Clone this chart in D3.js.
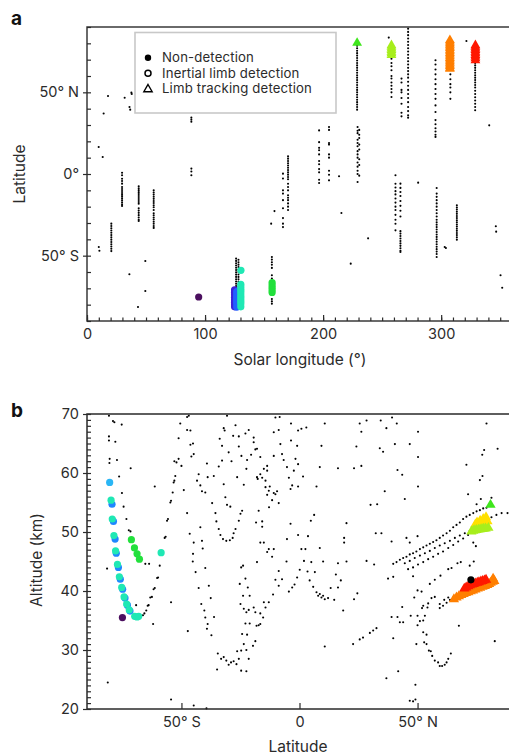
<!DOCTYPE html>
<html><head><meta charset="utf-8">
<script src="https://cdn.jsdelivr.net/npm/d3@7"></script>
<style>
html,body{margin:0;padding:0;background:#fff;}
svg{display:block;font-family:Inter,"Noto Sans",sans-serif;}
</style></head><body>
<svg id="c" width="509" height="756"></svg>
<script>
// ---------------- Panel a data (solar longitude, latitude) ----------------
const aScatter = [[9.9,16.5],[13.3,10.4],[14.1,37],[17.8,47.8],[31.9,46.7],[36,41],[36.6,39.4],[37.6,49.8],[37.9,49],
 [10,-44.7],[10.5,-47],[35.9,-61.4],[49.4,-53.3],[49.4,-71.6],[43.2,-81.4],[156,-30.4],[158.8,-22.7],[213.5,-1.4],
 [215.5,-23.9],[238.1,-39.4],[223.4,-54.9],[255.6,83.5],[280.5,-5.3],[303,-44.7],[304,-45.3],[321.4,81.4],[340.7,29.8],
 [346.3,-32],[346.6,-35.3],[350.3,-62],[351.7,-69.6]];
const aColumns = [
 [20.6,[-30.4,-31.8,-33.2,-34.6,-36,-37.4,-38.8,-40.2,-41.6,-43,-44.4,-45.8,-47.2]],
 [29.7,[0.8,-0.8,-2.9,-4.3,-5.9,-8,-9.2,-10.4,-11.6,-12.8,-14,-15.2,-16.4,-17.6,-18.8,-19.6]],
 [43.8,[-7.5,-8.7,-9.9,-11.1,-12.3,-13.5,-14.7,-15.9,-17.1,-18.2,-21,-22.4,-23.8,-25.2,-26.6,-28,-28.8]],
 [56.5,[-10,-11.3,-12.6,-13.9,-15.2,-16.5,-17.8,-19.1,-20.4,-22,-24,-25.3,-26.6,-27.9,-29.2,-30.5,-31.8,-33]],
 [88.4,[34.5,33.2,32,3.3,1.5,-0.8]],
 [126.3,[-51.8,-53.2,-54.6,-56,-57.4,-58.8,-60.2,-61.6,-63,-64.4,-65.8,-67.2,-68.6,-70,-71.4,-72.8,-74.2,-75.6,-77,-78.4,-79.4]],
 [128.3,[-52.5,-54,-55.5,-57,-58.5,-60,-61.5,-63,-64.5,-66,-67.5,-69,-70.5,-72,-73.5,-75,-76.5,-78]],
 [156.6,[-50.8,-52.4,-54,-55.6,-57.5,-62,-64,-66,-74,-76.5,-78,-79.4]],
 [166,[0.2,-2.8,-10,-12,-16,-21,-27,-30.4,-32.5]],
 [170.3,[10.8,9.4,8,6.6,5.2,3.8,2.4,1,-0.4,-1.8,-3.2,-6,-8,-10,-13,-14.5,-16,-18,-20,-22]],
 [196.6,[26.7,19.5,16,14.5,12,8,6,3,1,-3.5,-5.5]],
 [205,[28.8,27,19,18,12,10,2,-0.5,-3.9]],
 [229.2,[28.8,26.5,25,21,19,17,14,12,10,7,4.5,2,0,-4.9]],
 [230.6,[27,24,22,18,15,9,5.5,-1]],
 [228.8,[78.5,77,75.5,74,72.5,71,69.5,68,66.5,65,63.5,62,60.5,59,57.5,56,54.5,53,51.5,50,48.5,47,45.5,44,42.5,41,39.4]],
 [257.9,[70.6,68,66,63.5,60,58.5,56,54,52,50,47.1]],
 [266.4,[58.4,56,51.5,50,46.5,43,37.5,35.3]],
 [272,[89,87,85,83,81,79,77,75,73,71,69,67,65,63,61,59,56.5,54,51.5,49,46.5,44,41,38.5,36,34.5]],
 [261.3,[-0.8,-6,-8.3,-10.5,-12.5,-15,-17.5,-20,-22,-25,-28,-30.5,-34.5]],
 [265.5,[-5.9,-8.5,-11,-13.5,-16.5,-19.5,-22.5,-26,-35,-36.5,-38,-39.5,-41,-42.5,-44,-45.5,-47,-47.8]],
 [295.2,[69.6,67,64,61,58,55,52,49,46,42,38,33,30.5,28,26,24,22.7]],
 [296.2,[-8.6,-12,-14,-16,-18,-20,-22,-24,-26,-28,-29.5,-31,-32.5,-34,-35.5,-37,-38.5,-40,-41.5,-43,-44.5,-46,-47.5,-49,-50.8]],
 [313.3,[-19.2,-20.5,-21.8,-23.1,-24.4,-25.7,-27,-28.3,-29.6,-30.9,-32.2,-33.5,-34.8,-36.1,-37.4,-38.7,-40.2]],
 [307.8,[61,58,55,53,50,46]],
 [328.8,[68,66.5,65,63.5,62,60.5,59,57.5,56,54.5,53,51,49,47,45,43,41,39]]
];
// detections in panel a: [Ls, lat, colourKey]
const aCircles = [[94.6,-75.3,"purple"],
 [125,-71,"indigo"],[125,-72.5,"indigo"],[125,-74,"indigo"],[125,-75.5,"indigo"],[125,-77,"indigo"],[125,-78.5,"indigo"],[125,-80,"indigo"],[125,-81.3,"indigo"],
 [126.8,-72,"blue"],[126.8,-73.5,"blue"],[126.8,-75,"blue"],[126.8,-76.5,"blue"],[126.8,-78,"blue"],[126.8,-79.5,"blue"],[126.8,-81.5,"blue"],
 [130.3,-67.5,"aqua"],[130.3,-69,"aqua"],[130.3,-70.5,"aqua"],[130.3,-72,"aqua"],[130.3,-73.5,"aqua"],[130.3,-75,"aqua"],[130.3,-76.5,"aqua"],[130.3,-78,"aqua"],[130.3,-79.5,"aqua"],[130.3,-81.3,"aqua"],[130.4,-59,"aqua"],
 [156.8,-66.5,"green"],[156.8,-68,"green"],[156.8,-69.5,"green"],[156.8,-71,"green"],[156.8,-72.5,"green"]];
const aTriangles = [[228.8,80.2,"lime"],
 [257.9,78.8,"yellowgreen"],[257.9,77.8,"yellowgreen"],[257.9,76.8,"yellowgreen"],[257.9,75.8,"yellowgreen"],[257.9,74.8,"yellowgreen"],[257.9,73.8,"yellowgreen"],[257.9,72.8,"yellowgreen"],
 [307.4,82,"orange"],[307.4,81,"orange"],[307.4,80,"orange"],[307.4,79,"orange"],[307.4,78,"orange"],[307.4,77,"orange"],[307.4,76,"orange"],[307.4,75,"orange"],[307.4,74,"orange"],[307.4,73,"orange"],[307.4,72,"orange"],[307.4,71,"orange"],[307.4,70,"orange"],[307.4,69,"orange"],[307.4,68,"orange"],[307.4,67,"orange"],[307.4,66,"orange"],[307.4,65,"orange"],[307.4,64.3,"orange"],
 [329,78.8,"red"],[329,77.8,"red"],[329,76.8,"red"],[329,75.8,"red"],[329,74.8,"red"],[329,73.8,"red"],[329,72.8,"red"],[329,71.8,"red"],[329,70.8,"red"],[329,69.6,"red"]];

// ---------------- Panel b data (latitude, altitude km) ----------------
const bDots = [[-80.7,69.7],[-79,68.8],[-78.4,68.6],[-75.3,68.2],[-80.7,66.2],[-80.7,65.5],[-78,65.3],[-80.4,62.4],[-80.5,61.7],[-77.3,62.2],
 [-71.5,60.8],[-76.4,59.4],[-75.2,56.6],[-74.5,54.3],[-73.3,52.2],[-72.3,50.3],[-71.6,50.1],[-81.5,43.8],[-81.2,24.5],[-61.3,57.7],
 [-65.3,44.6],[-63.7,44.6],[-69.2,37.6],[-62,34.4],[-54.4,38.1],[-54.4,21.6],[-44.8,20.6],[-39.4,20.1],
 [-67.4,35.9],[-66.3,35.9],[-65.7,36.2],[-64.9,36.7],[-64.3,37.5],[-63.9,37.6],[-63.2,38.9],[-62.5,39],[-61.8,40.3],[-61.3,40.5],
 [-60.3,42.2],[-59.9,42.3],[-59.2,44.3],[-57.1,49],[-56.7,49.2],[-56.1,51.9],[-55.7,52.2],[-54.7,55],[-54.4,55.3],[-53.7,56.7],
 [-53.3,58.4],[-53,58.7],[-52.6,59.5],[-52.1,61.8],[-53,62],[-50,61.2],[-51.2,62.4],[-51.2,65.9],[-50.5,68.4],[-47.6,69.5],
 [-46.9,69.7],[-47.6,67.3],[-46.2,67.2],[-46.2,64.8],[-45.1,65],[-44.8,63.2],[-45.8,62.8],[-49,57.1],[-47.6,53.2],
 [-46.5,49.7],[-44.8,48.2],[-45.1,46.3],[-45.2,45],[-44,43.2],[-42.7,40.5],[-41.6,37.8],[-40.3,36.7],[-39.9,35.5],[-39.2,33.6],
 [-37.3,32.5],[-38.9,34.4],[-41.3,48.5],[-41,47.2],[-39.9,43.9],[-38.4,40.9],[-42,50.8],[-43.4,58.7],[-42.7,59.8],[-42,57.9],
 [-41.3,56.9],[-39.9,56.7],[-38.9,59.3],[-39.2,61.6],[-36.3,59.5],[-37,54.9],[-35.6,53.2],[-35.2,51.8],[-34.2,50.5],[-33.5,49.5],
 [-32.4,48.8],[-31,48.5],[-29.5,48.6],[-28.3,49],[-27.9,49.8],[-27.1,50.5],[-25.7,51.9],[-25,53.1],[-24.3,53.6],[-30.7,54.6],
 [-29.3,54.3],[-32.1,58.1],[-31.4,55.9],[-34.2,61.1],[-32.8,62.1],[-33.8,65.8],[-32.8,64.6],[-32.1,67.6],[-31.7,67.2],[-30.7,69.7],
 [-28.1,66.3],[-25.7,66.2],[-25.7,64.5],[-22.9,66.7],[-21.5,67.3],[-19.4,66],[-18.7,64],[-20.5,63.1],[-24.6,62.9],[-22.2,62.2],
 [-22.5,60.7],[-23.6,58],[-26.4,59.3],[-28.8,62],[-30,63.5],[-27.1,68.1],[-19.4,65.2],[-18,64.1],[-16.6,62.7],[-15.1,60.7],
 [-13.7,61.2],[-16.6,59.8],[-18,59.3],[-17.7,59],[-15.8,59.2],[-14.4,58.7],[-13.7,60.4],[-14.4,57.6],[-13,57],[-10.9,56.6],
 [-10.2,56.4],[-9.5,56.9],[-8.8,54.9],[-11.6,55.4],[-12.6,57.7],[-8.1,64.9],[-7.4,63.2],[-6.7,62.2],[-5.3,61],[-4.5,59.2],
 [-3.8,57.3],[-3.1,57.9],[-2.4,60.4],[-1.7,62.4],[-1,64.6],[-8.4,69.5],[-10.2,69.4],[-10.9,66.9],[-8.8,67.3],[-3.6,68.4],
 [-3.6,65.5],[-10.9,62.9],[-12.9,54.2],[-13.7,56.3],[-17.3,53.6],[-18.4,51.6],[-15.8,51.8],[-16.6,48.2],[-15.8,50.9],[-15.1,48.2],
 [-13.7,46.6],[-13,47.1],[-11.6,45.8],[-10.9,47.1],[-8.8,43.4],[-10.2,41.9],[-8.8,40.9],[-7.4,42],[-5.3,48.8],[-5.5,45],
 [-3.8,51.4],[-3.1,40.6],[-4.5,39.9],[-2.1,41.1],[-1,42.3],[-18,44.9],[-23.9,44.3],[-24.7,44],[-22.9,42.1],[-25.3,41.2],
 [-23.9,39.2],[-21.1,39.2],[-21.9,40.6],[-25,37.8],[-23.6,37],[-22.5,36.4],[-21.5,36.8],[-19.4,37.2],[-18.7,36.4],[-18.2,34.1],
 [-17.3,34.2],[-16.6,34.4],[-15.4,35.5],[-14.4,37.2],[-13,38.1],[-11.2,39.4],[-15.1,38.1],[-16.6,36.2],[-22.9,34.5],[-21.1,34.5],
 [-24.3,32.7],[-22.2,32.6],[-23.6,31],[-18.7,31.5],[-19.7,30.7],[-22.5,30],[-24.7,29.9],[-26.4,29.8],[-34.6,29.4],[-33.2,28.5],
 [-32.1,28.8],[-31,28.2],[-30,27.5],[-29,27.9],[-27.9,28.1],[-26.7,27.6],[-25.7,28.5],[-24.7,26.5],[-22.5,26.4],[-21.5,28.5],
 [-34.9,26.7],[-47.3,33.2],[-37.6,38.8],[-36.2,35.6],
 [-0.6,67.2],[0.8,67.5],[2.9,67.7],[10.7,68.4],[25.5,68.4],[28.4,68.9],[34.4,68.9],[39.2,69.4],[41.2,68.4],[36.8,67.6],
 [26.2,67],[50.2,67],[79.2,68.4],[9.3,64.6],[24.1,64.5],[34,64.2],[35.4,63.6],[40.4,64.9],[46.7,64.9],[50.2,62.7],
 [83.9,64.1],[78.2,63.9],[77.4,63.1],[70.7,61.4],[77.5,59.5],[76.4,58.8],[-0.6,61.5],[8.6,61],[16.3,60.8],[23.1,60.8],
 [26.2,61.2],[41.5,60.5],[43.5,59.7],[1.5,59.4],[-0.6,57.7],[7.2,57.7],[36.1,56.9],[50.2,57.7],[44.6,55.6],[30.1,54.6],
 [32.9,54.7],[71.4,56.4],[76.8,55.6],[75,54.7],[81.3,55.8],[6.2,52.9],[4.8,51.9],[19.9,51.5],[-0.6,49.5],[3.6,49.3],
 [0.8,47.1],[2.5,47.1],[8.6,47.3],[18.9,49],[18.9,48.2],[32.3,49.8],[34.7,49.8],[39,48.4],[45.3,49],[46.7,48.2],
 [50,49.3],[73.6,48.2],[74.7,47.6],[1.9,45.1],[5,44.9],[10,45],[16.3,44.7],[19.9,45],[28.4,45.1],[31.6,44.5],
 [37.5,42.1],[39.7,42.4],[48.1,42.5],[55.2,41.2],[57.3,41.9],[59.7,42.6],[63,43.7],[64.4,43.9],[66.9,44.7],[68.3,44.9],
 [73.8,45],[72.1,44.3],[0.1,43.6],[3.4,43.3],[6.5,43.2],[4.3,41.8],[5.8,40.7],[7.2,39.8],[7.9,39.2],[8.6,39.5],
 [9.3,38.9],[10,39.2],[10.7,38.6],[12.1,38.8],[13.2,40.5],[14.7,38.5],[15.4,42.8],[17.5,41.8],[16.3,40.6],[18.5,36.7],
 [24.5,39.6],[23.1,38.6],[10.7,30.6],[22.7,31],[25.5,31.8],[26.9,32.1],[29.8,32.9],[31.2,33.3],[32.6,33.7],[36.8,25.2],
 [41.8,26.4],[39.7,32],[39,35.6],[41.5,35.6],[42.5,34.7],[43.9,34.7],[43.5,37.3],[47.1,35.8],[50,35.8],[50,34.2],
 [51,34.9],[52.4,35],[53.1,35.8],[51.9,37.1],[52.4,37.5],[54.2,37.2],[54.5,37.9],[55.9,38.8],[57.3,39],[59.4,37.8],
 [61.3,38.5],[63,38.9],[50,40.1],[51.7,39.9],[48.6,38.9],[49.5,31],[52.4,33],[53.8,32.6],[52.8,31.3],[53.8,31],
 [54.8,29.9],[55.6,29.8],[56.2,29],[57.3,28.2],[58.7,27.9],[59.4,27.3],[60.4,27.3],[61.5,27.5],[62.3,27.9],[63,28.5],
 [64.1,29.4],[67.5,34.1],[82.7,31.5],[49.1,24.1],[46.7,21.4],[48.1,21.3],[49.1,21.6]];
const bArc1 = [[39.7,44.6],[41.1,44.9],[42.5,45.3],[43.9,45.6],[45.3,45.8],[46.7,46.2],[48.1,46.4],[49.5,46.7],[51,47.1],[52.4,47.4],
 [53.8,47.7],[55.2,48],[56.6,48.3],[58,48.6],[59.4,49],[60.8,49.4],[62.3,49.8],[63.7,50.2],[65.1,50.8],[66.5,51.2],
 [67.9,51.6],[69.3,52.2],[70.7,52.6],[72.1,52.9],[73.6,53.2],[75,53.5],[76.4,53.7],[77.8,54],[79.2,54.1]];
const bArc2 = [[44.6,44.7],[46.7,45.1],[48.8,45.6],[51,46],[53.1,46.4],[55.2,46.8],[57.3,47.3],[59.4,47.7],[61.5,48.1],[63.7,48.5],
 [65.8,49],[67.9,49.4],[70,49.8],[72.1,50.2],[74.3,50.8],[78.5,51.8],[81.3,52.5],[83.4,52.9],[85.6,53.2],[88.1,53.2]];
const bArc3 = [[46,43.7],[48.1,44],[50.2,44.5],[52.4,44.9],[54.5,45.4],[56.6,45.8],[58.7,46.3],[60.8,46.7],[63,47.3],[65.1,47.8],
 [67.2,48.4],[69.3,48.9],[71.4,49.5]];
const bArc4 = [[59.4,37.1],[60.8,37.5],[62.3,38],[63.7,38.5],[65.1,38.9]];
const bCircles = [[-80.4,58.4,"skyblue"],
 [-79.4,54.7,"blue2"],[-78.8,51.8,"blue2"],[-78.1,48.8,"blue2"],[-77.6,46.4,"blue2"],[-76.7,44,"blue2"],[-75.9,42,"blue2"],[-74.9,40.3,"blue2"],[-73.9,38.8,"blue2"],[-72.9,37.6,"blue2"],[-71.8,36.6,"blue2"],
 [-79.8,55.4,"aqua"],[-79.3,52.2,"aqua"],[-78.6,49.4,"aqua"],[-77.9,46.8,"aqua"],[-77.1,44.5,"aqua"],[-76.3,42.4,"aqua"],[-75.3,40.6,"aqua"],[-74.3,39,"aqua"],[-73.2,37.8,"aqua"],[-72.1,36.8,"aqua"],[-69.8,35.7,"aqua"],[-68.8,35.6,"aqua"],[-68.1,35.7,"aqua"],
 [-71.2,48.7,"green"],[-69.9,47.3,"green"],[-68.8,46.3,"green"],[-67.8,45.4,"green"],[-58.6,46.5,"aqua"],[-75,35.5,"purple"]];
const bTriangles = [[80.9,54.6,"lime"],
 [74.5,51.3,"yellow"],[75.2,51.6,"yellow"],[76,51.2,"yellow"],[76.5,51.9,"yellow"],[77.2,51.5,"yellow"],[77.8,52.2,"yellow"],[78.5,51.6,"yellow"],[79,52.5,"yellow"],[79.6,51.8,"yellow"],
 [72.8,50.1,"yellowgreen"],[73.6,50.2,"yellowgreen"],[74.3,50.3,"yellowgreen"],[75,50.35,"yellowgreen"],[75.8,50.4,"yellowgreen"],[76.5,50.45,"yellowgreen"],[77.3,50.5,"yellowgreen"],[78,50.55,"yellowgreen"],[78.8,50.6,"yellowgreen"],[80,50.7,"yellowgreen"],
 [65.4,38.6,"orange"],[66.5,38.9,"orange"],[67.5,39.1,"orange"],[68.5,39.3,"orange"],[69.5,39.5,"orange"],[70.5,39.65,"orange"],[71.5,39.8,"orange"],[72.5,39.95,"orange"],[73.5,40.1,"orange"],[74.5,40.25,"orange"],[75.5,40.4,"orange"],[76.5,40.55,"orange"],[77.5,40.7,"orange"],[78.5,40.85,"orange"],[79.5,41,"orange"],[80.3,41.2,"orange"],[81,41.4,"orange"],[81.8,41.55,"orange"],[82.5,41.7,"orange"],[82,42.1,"orange"],
 [69.8,40.4,"red"],[70.6,40.6,"red"],[71.5,40.8,"red"],[72.2,40.95,"red"],[73,41.1,"red"],[73.8,41.2,"red"],[74.5,41.3,"red"],[75.3,41.4,"red"],[76,41.5,"red"],[76.8,41.6,"red"],[77.5,41.7,"red"],[78.3,41.8,"red"],[79,41.9,"red"]];
const bNonDetection = [[72.6,41.9]];

const palette = {purple:"#4b0f5f", indigo:"#3b22d6", blue:"#2160ff", blue2:"#1f86ff", skyblue:"#2ab6f5", aqua:"#1fe8b4",
 green:"#22e03c", lime:"#3fe61c", yellowgreen:"#a7ee1d", yellow:"#ffe000", orange:"#ff7f00", red:"#ff1800"};

const lsTicks = [0,100,200,300];
const latTicksA = [-50,0,50], latLabelsA = ["50° S","0°","50° N"];
const altTicks = [20,30,40,50,60,70];
const latTicksB = [-50,0,50], latLabelsB = ["50° S","0","50° N"];
const legendItems = ["Non-detection","Inertial limb detection","Limb tracking detection"];

// ---------------- drawing ----------------
const svg = d3.select("#c");
const ink = "#2b2b2b";
const xA = d3.scaleLinear().domain([0,360]).range([87,512]);
const yA = d3.scaleLinear().domain([-90,90]).range([321,27]);
const xB = d3.scaleLinear().domain([-90,90]).range([87,512]);
const yB = d3.scaleLinear().domain([20,70]).range([709,414]);

function styleAxis(g){
  g.select(".domain").remove();
  g.selectAll("line").attr("stroke",ink).attr("stroke-width",1.2);
  g.selectAll("text").attr("fill",ink).style("font-size","14.5px").style("font-family","Inter, sans-serif");
}

// Panel a
const tri = d3.symbol().type(d3.symbolTriangle).size(42);
const ga = svg.append("g");
const aPts = aColumns.flatMap(([ls,lats]) => lats.map(l => [ls,l])).concat(aScatter);
ga.selectAll("circle.nd").data(aPts).join("circle").attr("class","nd")
  .attr("cx",d=>xA(d[0])).attr("cy",d=>yA(d[1])).attr("r",1.05).attr("fill","#000");
ga.selectAll("circle.det").data(aCircles).join("circle").attr("class","det")
  .attr("cx",d=>xA(d[0])).attr("cy",d=>yA(d[1])).attr("r",3.6).attr("fill",d=>palette[d[2]]);
ga.selectAll("path.tri").data(aTriangles).join("path").attr("class","tri")
  .attr("d",tri).attr("transform",d=>`translate(${xA(d[0])},${yA(d[1])})`).attr("fill",d=>palette[d[2]]);

// frame a
svg.append("rect").attr("x",xA(0)).attr("y",yA(90)).attr("width",xA(360)-xA(0)).attr("height",yA(-90)-yA(90))
  .attr("fill","none").attr("stroke","#3a3a3a").attr("stroke-width",1.5);
// axes a
svg.append("g").attr("transform",`translate(0,${yA(-90)})`)
  .call(d3.axisBottom(xA).tickValues(d3.range(0,361,10)).tickSize(-3.5).tickFormat("")).call(styleAxis);
svg.append("g").attr("transform",`translate(0,${yA(-90)})`)
  .call(d3.axisBottom(xA).tickValues(lsTicks).tickSize(-6).tickPadding(8).tickFormat(d3.format("d"))).call(styleAxis);
svg.append("g").attr("transform",`translate(${xA(0)},0)`)
  .call(d3.axisLeft(yA).tickValues(d3.range(-90,91,10)).tickSize(-4).tickFormat("")).call(styleAxis);
svg.append("g").attr("transform",`translate(${xA(0)},0)`)
  .call(d3.axisLeft(yA).tickValues(latTicksA).tickSize(4).tickPadding(4).tickFormat((d,i)=>latLabelsA[i])).call(styleAxis);

// legend
const lg = svg.append("g");
lg.append("rect").attr("x",135).attr("y",32.5).attr("width",201).attr("height",80.5).attr("fill","#fff")
  .attr("stroke","#c8c8c8").attr("stroke-width",1.6);
legendItems.forEach((t,i)=>{
  const cy = 57.8 + i*15.5;
  if(i===0) lg.append("circle").attr("cx",148).attr("cy",cy).attr("r",3.2).attr("fill","#000");
  if(i===1) lg.append("circle").attr("cx",148).attr("cy",cy).attr("r",3).attr("fill","none").attr("stroke","#000").attr("stroke-width",1.5);
  if(i===2) lg.append("path").attr("d",d3.symbol().type(d3.symbolTriangle).size(30)).attr("transform",`translate(148,${cy+0.5})`)
      .attr("fill","none").attr("stroke","#000").attr("stroke-width",1.4);
  lg.append("text").attr("x",162).attr("y",cy).attr("dy","0.35em").text(t)
    .attr("fill",ink).style("font-size","13.2px").style("letter-spacing","0.15px");
});

// titles a
svg.append("text").attr("x",11).attr("y",25).text("a").style("font-weight","bold").style("font-size","19px").attr("fill","#111");
svg.append("text").attr("x",300).attr("y",365).attr("text-anchor","middle").text("Solar longitude (°)")
  .style("font-size","15.5px").attr("fill",ink);
svg.append("text").attr("transform","translate(25,174) rotate(-90)").attr("text-anchor","middle").text("Latitude")
  .style("font-size","15.5px").attr("fill",ink);

// Panel b
const gb = svg.append("g");
const bPts = bDots.concat(bArc1,bArc2,bArc3,bArc4);
gb.selectAll("circle.nd").data(bPts).join("circle").attr("class","nd")
  .attr("cx",d=>xB(d[0])).attr("cy",d=>yB(d[1])).attr("r",1.05).attr("fill","#000");
gb.selectAll("circle.det").data(bCircles).join("circle").attr("class","det")
  .attr("cx",d=>xB(d[0])).attr("cy",d=>yB(d[1])).attr("r",3.6).attr("fill",d=>palette[d[2]]);
const triB = d3.symbol().type(d3.symbolTriangle).size(46);
gb.selectAll("path.tri").data(bTriangles).join("path").attr("class","tri")
  .attr("d",triB).attr("transform",d=>`translate(${xB(d[0])},${yB(d[1])})`).attr("fill",d=>palette[d[2]]);
gb.selectAll("circle.bnd").data(bNonDetection).join("circle").attr("class","bnd")
  .attr("cx",d=>xB(d[0])).attr("cy",d=>yB(d[1])).attr("r",3.6).attr("fill","#000");

svg.append("rect").attr("x",xB(-90)).attr("y",yB(70)).attr("width",xB(90)-xB(-90)).attr("height",yB(20)-yB(70))
  .attr("fill","none").attr("stroke","#2a2a2a").attr("stroke-width",1.5);
svg.append("g").attr("transform",`translate(0,${yB(20)})`)
  .call(d3.axisBottom(xB).tickValues(latTicksB).tickSize(-6).tickPadding(8).tickFormat((d,i)=>latLabelsB[i])).call(styleAxis);
svg.append("g").attr("transform",`translate(${xB(-90)},0)`)
  .call(d3.axisLeft(yB).tickValues(d3.range(20,71,1)).tickSize(-4).tickFormat("")).call(styleAxis);
svg.append("g").attr("transform",`translate(${xB(-90)},0)`)
  .call(d3.axisLeft(yB).tickValues(altTicks).tickSize(4).tickPadding(4).tickFormat(d3.format("d"))).call(styleAxis);

svg.append("text").attr("x",11).attr("y",417).text("b").style("font-weight","bold").style("font-size","19px").attr("fill","#111");
svg.append("text").attr("x",298).attr("y",752).attr("text-anchor","middle").text("Latitude")
  .style("font-size","15.5px").attr("fill",ink);
svg.append("text").attr("transform","translate(42,560) rotate(-90)").attr("text-anchor","middle").text("Altitude (km)")
  .style("font-size","15.5px").attr("fill",ink);
</script>
</body></html>
